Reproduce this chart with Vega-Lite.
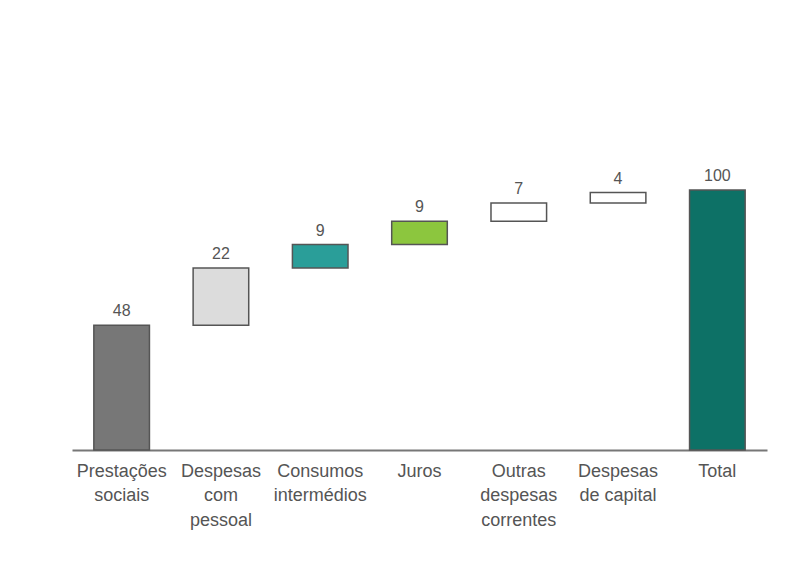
{
  "$schema": "https://vega.github.io/schema/vega-lite/v6.json",
  "autosize": "none",
  "width": 695,
  "height": 260,
  "padding": {"left": 72, "top": 190, "right": 38, "bottom": 131},
  "background": "white",
  "config": {"view": {"stroke": null}},
  "data": {
    "values": [
      {"cat": "Prestações sociais", "value": 48, "start": 0, "end": 48, "next": "Despesas com pessoal"},
      {"cat": "Despesas com pessoal", "value": 22, "start": 48, "end": 70, "next": "Consumos intermédios"},
      {"cat": "Consumos intermédios", "value": 9, "start": 70, "end": 79, "next": "Juros"},
      {"cat": "Juros", "value": 9, "start": 79, "end": 88, "next": "Outras despesas correntes"},
      {"cat": "Outras despesas correntes", "value": 7, "start": 88, "end": 95, "next": "Despesas de capital"},
      {"cat": "Despesas de capital", "value": 4, "start": 95, "end": 99, "next": "Total"},
      {"cat": "Total", "value": 100, "start": 0, "end": 100, "next": ""}
    ]
  },
  "layer": [
    {
      "mark": {"type": "bar", "strokeWidth": 1.5, "stroke": "#555"},
      "encoding": {
        "x": {
          "field": "cat", "type": "nominal", "sort": null,
          "scale": {"paddingInner": 0.44, "paddingOuter": 0.22},
          "axis": {
            "title": null, "ticks": false, "domainColor": "#777", "domainWidth": 2,
            "labelAngle": 0, "labelFontSize": 18, "labelColor": "#555", "labelPadding": 12,
            "labelBaseline": "top", "labelLineHeight": 24.5, "labelFont": "Liberation Sans",
            "labelExpr": "datum.value == 'Despesas de capital' ? ['Despesas', 'de capital'] : split(datum.value, ' ')"
          }
        },
        "y": {"field": "start", "type": "quantitative", "scale": {"domain": [0, 100], "nice": false}, "axis": null},
        "y2": {"field": "end"},
        "fill": {
          "field": "cat", "type": "nominal", "legend": null, "sort": null,
          "scale": {"range": ["#777777", "#dcdcdc", "#2a9e99", "#8cc63e", "#ffffff", "#ffffff", "#0d7166"]}
        }
      }
    },
    {
      "mark": {"type": "text", "fontSize": 16, "baseline": "bottom", "dy": -6, "color": "#555", "font": "Liberation Sans"},
      "encoding": {
        "x": {"field": "cat", "type": "nominal", "sort": null},
        "y": {"field": "end", "type": "quantitative"},
        "text": {"field": "value"}
      }
    }
  ]
}
